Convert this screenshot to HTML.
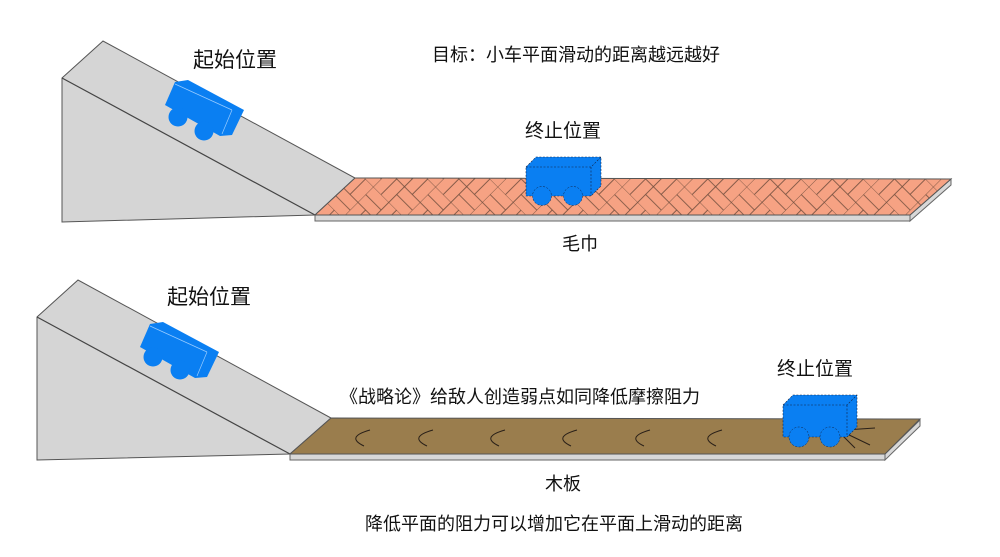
<!DOCTYPE html>
<html><head><meta charset="utf-8"><style>
body{margin:0;background:#fff;}
svg{display:block;}
text{font-family:"Liberation Sans","Noto Sans CJK SC",sans-serif;fill:#111;}
</style></head><body>
<svg width="1000" height="557" viewBox="0 0 1000 557" xmlns="http://www.w3.org/2000/svg">
<defs>
<pattern id="hb" width="44" height="44" patternUnits="userSpaceOnUse" patternTransform="rotate(45)">
<rect width="44" height="44" fill="#F6A283"/>
<path d="M0 0H44M0 22H44M0 0V44M22 0V44M0 11H22M33 0V22M11 22V44M22 33H44" stroke="#6b4a3a" stroke-width="0.8" fill="none"/>
</pattern>
</defs>
<!-- TOP -->
<polygon points="62,78 103,41 355,178 315,215 62,222" fill="#D5D5D5" stroke="#555" stroke-width="1"/>
<path d="M62 78 L315 215" stroke="#444" stroke-width="1.2" fill="none"/>
<polygon points="315,215 910,215 910,221 315,221" fill="#D8D8D8" stroke="#666" stroke-width="1"/>
<polygon points="910,215 951,179 951,185 910,221" fill="#D8D8D8" stroke="#666" stroke-width="1"/>
<polygon points="355,178 951,179 910,215 315,215" fill="url(#hb)" stroke="#555" stroke-width="1"/>
<!-- top ramp car -->
<polygon points="165,105 175,82 188,80 244,110 232,135 220,136" fill="#0A7FF2"/>
<line x1="175" y1="84" x2="232" y2="110" stroke="#9cf" stroke-width="0.7"/>
<line x1="232" y1="110" x2="222" y2="134" stroke="#9cf" stroke-width="0.7"/>
<circle cx="178" cy="117" r="9.5" fill="#0A7FF2"/>
<circle cx="204" cy="131" r="9.5" fill="#0A7FF2"/>
<!-- top end car -->
<polygon points="526,167 536,157 601,157 601,186 591,196 526,196" fill="#0A7FF2" stroke="#124" stroke-width="0.6" stroke-dasharray="2,1.5"/>
<polyline points="526,167 591,167 601,157" fill="none" stroke="#124" stroke-width="0.6" stroke-dasharray="2,1.5"/>
<line x1="591" y1="167" x2="591" y2="196" stroke="#124" stroke-width="0.6" stroke-dasharray="2,1.5"/>
<circle cx="542" cy="196" r="9.5" fill="#0A7FF2" stroke="#124" stroke-width="0.5" stroke-dasharray="2,1.5"/>
<circle cx="573" cy="196" r="9.5" fill="#0A7FF2" stroke="#124" stroke-width="0.5" stroke-dasharray="2,1.5"/>
<text x="193" y="67" font-size="21">起始位置</text>
<text x="432" y="61" font-size="18">目标：小车平面滑动的距离越远越好</text>
<text x="525" y="137" font-size="19">终止位置</text>
<text x="562" y="250" font-size="18">毛巾</text>
<!-- BOTTOM -->
<polygon points="37,317 78,280 331,418 290,454 37,460" fill="#D5D5D5" stroke="#555" stroke-width="1"/>
<path d="M37 317 L290 454" stroke="#444" stroke-width="1.2" fill="none"/>
<polygon points="290,454 885,454 885,460 290,460" fill="#D8D8D8" stroke="#666"/>
<polygon points="885,454 920,420 920,426 885,460" fill="#D8D8D8" stroke="#666"/>
<polygon points="331,418 920,419 885,454 290,454" fill="#9A7D4D" stroke="#555"/>
<g stroke="#2a2018" stroke-width="1" fill="none">
<path d="M370 430 Q345 437 364 446"/>
<path d="M433 430 Q408 437 427 446"/>
<path d="M505 430 Q480 437 499 446"/>
<path d="M577 430 Q552 437 571 446"/>
<path d="M650 430 Q625 437 644 446"/>
<path d="M722 430 Q697 437 716 446"/>
<path d="M845 430 L875 428 M845 433 L870 445 M842 435 L855 448"/>
</g>
<polygon points="140,347 150,324 163,322 219,352 207,377 195,378" fill="#0A7FF2"/>
<line x1="150" y1="326" x2="207" y2="352" stroke="#9cf" stroke-width="0.7"/>
<line x1="207" y1="352" x2="197" y2="376" stroke="#9cf" stroke-width="0.7"/>
<circle cx="153" cy="357" r="9.5" fill="#0A7FF2"/>
<circle cx="180" cy="370" r="9.5" fill="#0A7FF2"/>
<polygon points="783,405 793,395 857,395 857,427 847,437 783,437" fill="#0A7FF2" stroke="#124" stroke-width="0.6" stroke-dasharray="2,1.5"/>
<polyline points="783,405 847,405 857,395" fill="none" stroke="#124" stroke-width="0.6" stroke-dasharray="2,1.5"/>
<line x1="847" y1="405" x2="847" y2="437" stroke="#124" stroke-width="0.6" stroke-dasharray="2,1.5"/>
<circle cx="799" cy="437" r="10" fill="#0A7FF2" stroke="#124" stroke-width="0.5" stroke-dasharray="2,1.5"/>
<circle cx="830" cy="437" r="10" fill="#0A7FF2" stroke="#124" stroke-width="0.5" stroke-dasharray="2,1.5"/>
<text x="167" y="304" font-size="21">起始位置</text>
<text x="777" y="375" font-size="19">终止位置</text>
<text x="340" y="403" font-size="18">《战略论》给敌人创造弱点如同降低摩擦阻力</text>
<text x="545" y="490" font-size="18">木板</text>
<text x="365" y="530" font-size="18">降低平面的阻力可以增加它在平面上滑动的距离</text>
</svg>
</body></html>
